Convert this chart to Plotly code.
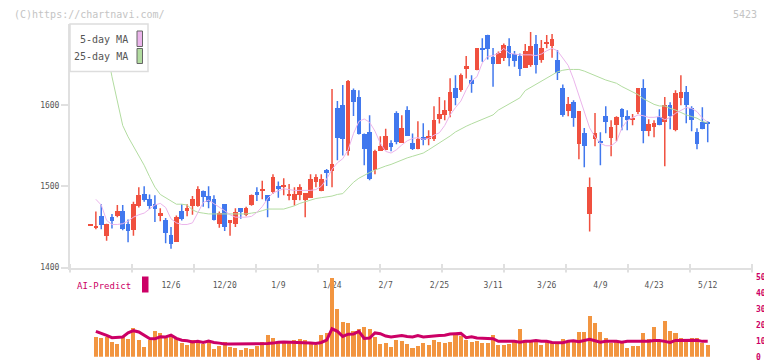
import plotly.graph_objects as go

# ---------------- data ----------------
day_index = list(range(-15, 101))          # trading-day slots, 0 = 12/6, 100 = 5/12
tick_index = [0, 10, 20, 30, 40, 50, 60, 70, 80, 90, 100]
tick_labels = ["12/6", "12/20", "1/9", "1/24", "2/7", "2/25", "3/11", "3/26", "4/9", "4/23", "5/12"]

opens = [1451.5, 1449, 1463, 1439, 1462, 1463, 1470, 1454, 1446, 1476, 1491, 1484, 1478, 1463, 1458,
         1440, 1432, 1470, 1469, 1476, 1476, 1494, 1488, 1484, 1453, 1478, 1455, 1453, 1473, 1465,
         1477, 1493, 1495, 1489, 1492.6, 1500, 1499.5, 1488.5, 1483, 1489, 1483, 1486, 1505, 1494, 1520,
         1519, 1596, 1600, 1543.6, 1618.5, 1610, 1565, 1566.7, 1520, 1543.6, 1544.4, 1553, 1590, 1553.5, 1593.8,
         1554, 1545.7, 1560.5, 1559.5, 1558, 1582.7, 1587.7, 1592.6, 1620.6, 1618.5, 1645, 1631, 1643, 1670.4, 1686.8,
         1659.3, 1650.6, 1658.4, 1672.8, 1663, 1660.5, 1646, 1649.8, 1675.3, 1656, 1676.5, 1672.8, 1655.6, 1621, 1592.6,
         1603.7, 1551.9, 1565.4, 1465.4, 1558, 1554.5, 1586.4, 1559.3, 1575.3, 1595, 1586.4, 1582, 1591.4, 1621, 1568,
         1572.8, 1585.2, 1579, 1600, 1569, 1608.6, 1616, 1596.3, 1566.7, 1579, 1579]
highs = [1453, 1469, 1478, 1454, 1466, 1477, 1477, 1459, 1481, 1499, 1500, 1490, 1489, 1473, 1461,
         1450, 1464, 1478, 1478, 1488, 1500, 1495, 1500, 1489, 1469, 1478, 1458, 1473, 1473, 1475,
         1490, 1499, 1507, 1489, 1515, 1506, 1510, 1503, 1499, 1502.5, 1491.4, 1515, 1515, 1515, 1521.4,
         1620, 1605, 1625, 1631, 1620.6, 1618.5, 1565, 1587.6, 1545, 1561.7, 1570.8, 1556.8, 1592.6, 1587.6, 1598.8,
         1565, 1580.2, 1577.8, 1569, 1598.8, 1610, 1606.2, 1633.3, 1637, 1639, 1660.5, 1637, 1670.4, 1682.3, 1686.8,
         1670.4, 1666, 1676, 1682.3, 1666.7, 1663.8, 1675.3, 1690, 1686.4, 1680.2, 1686.4, 1687.7, 1668, 1625.5, 1610,
         1606.2, 1592.6, 1572, 1511, 1590.5, 1566.7, 1598.8, 1581.5, 1586.4, 1596.3, 1593.8, 1589, 1621, 1632, 1582.7,
         1581.5, 1595, 1610, 1603.7, 1618.5, 1637, 1623.5, 1598.8, 1571.6, 1597.5, 1580.2]
lows = [1451, 1447, 1447, 1433, 1448, 1462, 1446, 1431, 1439, 1474, 1481, 1472, 1456, 1457, 1430,
        1423, 1432, 1458, 1463, 1465, 1475, 1475, 1473, 1458, 1449, 1445, 1439, 1450, 1460, 1463,
        1476, 1482, 1484, 1462, 1491, 1486, 1489, 1483, 1476.5, 1483, 1462, 1486, 1499, 1494, 1500.4,
        1499, 1532, 1538, 1538, 1586.8, 1564, 1526, 1507.4, 1514.8, 1543.6, 1544.4, 1543.2, 1551.9, 1553.5, 1562,
        1544.9, 1545.7, 1550.6, 1550.6, 1556, 1577.4, 1581.5, 1585.2, 1600, 1616.5, 1633, 1615.2, 1643, 1653.5, 1656.4,
        1622.6, 1650.6, 1654.3, 1648, 1647.3, 1636, 1646, 1647.3, 1639.1, 1652.3, 1670, 1658.4, 1631, 1585.6, 1586.4,
        1573.3, 1533.3, 1523.5, 1444.4, 1549.4, 1526, 1565.4, 1537, 1555.6, 1569, 1569, 1575.3, 1589, 1553, 1561.7,
        1560.5, 1575.3, 1524.7, 1570.4, 1568, 1600, 1577.8, 1568, 1545.7, 1570.4, 1554.3]
closes = [1452.3, 1451, 1452, 1453, 1457, 1469, 1447, 1445, 1478, 1489, 1483, 1476, 1472, 1467, 1442,
          1429, 1462, 1460, 1473, 1484, 1497, 1487, 1481, 1458, 1467, 1450, 1458, 1468, 1468, 1473,
          1489, 1489, 1496.5, 1482, 1511, 1497, 1500.5, 1490, 1490, 1499, 1491.4, 1508.6, 1511, 1508.6, 1517,
          1527, 1560, 1558, 1629.6, 1604, 1564, 1546, 1509, 1543.6, 1549.4, 1561.7, 1548, 1554.7, 1571.6, 1562.1,
          1546, 1558, 1557.2, 1561.5, 1581.5, 1589, 1593.8, 1616, 1609, 1637, 1648, 1626, 1670.4, 1668, 1668.7,
          1650.6, 1664.2, 1674, 1658.4, 1654.7, 1645, 1666.7, 1672.8, 1649.8, 1670.4, 1677.5, 1681.5, 1640, 1587.7, 1601.2,
          1584, 1592.6, 1549.4, 1498.8, 1565.4, 1553.5, 1579, 1572.8, 1585.2, 1585.2, 1581.5, 1583, 1621, 1568, 1576.5,
          1577.8, 1575.3, 1600, 1586.4, 1614.8, 1616, 1600, 1581.5, 1551.9, 1570.4, 1576.5]

ma5 = [None, 1484, 1477, 1458, 1453, 1453, 1454, 1457, 1462, 1465, 1467, 1472, 1477, 1479, 1474,
       1460, 1455, 1453, 1453, 1455, 1467, 1480, 1483, 1479, 1475, 1470, 1465, 1462, 1462, 1462,
       1463, 1468, 1475, 1485, 1492, 1495, 1497, 1496, 1495, 1495, 1495, 1495, 1496, 1500, 1509,
       1521, 1529, 1534, 1545, 1565, 1580, 1583, 1579, 1568, 1553, 1543, 1541, 1545, 1551, 1556,
       1559, 1560, 1558, 1559, 1563, 1566, 1575, 1588, 1597, 1605, 1619, 1630, 1635, 1652, 1660,
       1661, 1664, 1670, 1664, 1663, 1662, 1662, 1662, 1661, 1663, 1667, 1670, 1667, 1658, 1649,
       1632, 1612, 1593, 1572, 1561, 1553, 1550, 1550, 1555, 1572, 1581, 1585, 1588, 1587, 1585,
       1585, 1586, 1582, 1585, 1590, 1594, 1597, 1596, 1592, 1584, 1579]
ma25 = [1760, 1740, 1715, 1670, 1635, 1605, 1575, 1561, 1549, 1538, 1526, 1512, 1499, 1490, 1486,
        1483, 1478, 1478, 1477, 1471, 1468, 1467, 1466, 1466, 1466, 1466, 1466, 1466, 1466, 1466,
        1467, 1468, 1470, 1472, 1472, 1472, 1472, 1474, 1476, 1479, 1481, 1483, 1485, 1486, 1487,
        1488, 1490, 1491, 1498, 1505, 1510, 1514, 1517, 1520, 1523, 1525, 1527, 1530, 1532, 1535,
        1537, 1539, 1541, 1545, 1549, 1553, 1558, 1562, 1567, 1571, 1574, 1577, 1580, 1582, 1585,
        1588, 1594, 1598, 1601, 1605, 1609, 1618, 1622, 1625, 1629, 1633, 1637, 1641, 1643, 1644,
        1644, 1644, 1642, 1639, 1636, 1634, 1631, 1629, 1627, 1623, 1620, 1616, 1613, 1608, 1605,
        1601, 1599, 1599, 1596, 1594, 1591, 1588, 1586, 1584, 1580, 1578]

volume = [None, 12.4, 11.8, 12.2, 9.3, 8.1, 12.4, 11.2, 18.0, 10.6, 6.2, 10.6, 16.1, 14.9, 11.8,
          12.8, 11.8, 8.7, 7.5, 10.6, 9.3, 8.1, 10.6, 5.0, 6.8, 9.3, 6.2, 5.6, 4.3, 5.6,
          5.0, 6.8, 9.3, 13.7, 11.8, 9.3, 9.3, 9.3, 10.6, 11.2, 10.6, 8.7, 7.5, 13.7, 14.9,
          49.6, 29.8, 21.7, 21.1, 16.1, 17.4, 18.6, 17.7, 12.4, 8.1, 8.7, 6.2, 10.6, 9.9, 8.1,
          5.6, 6.8, 8.7, 7.5, 10.6, 9.3, 8.7, 9.3, 13.5, 13.0, 10.6, 9.3, 9.9, 8.7, 8.7,
          13.7, 7.5, 7.5, 8.1, 9.3, 17.4, 9.3, 9.9, 10.6, 7.5, 9.3, 8.7, 9.3, 11.2, 9.9,
          10.6, 15.5, 15.5, 25.5, 21.1, 15.5, 11.8, 8.7, 9.3, 9.3, 5.6, 6.8, 6.8, 14.9, 11.2,
          18.6, 9.3, 22.4, 16.1, 14.9, 11.8, 9.3, 11.8, 11.8, 8.7, 7.5]
ai_predict = [None, 16.0, 14.9, 13.4, 12.0, 12.2, 12.4, 15.0, 16.4, 15.6, 13.8, 11.5, 11.3, 12.6, 12.5,
              13.6, 11.6, 10.4, 10.1, 9.3, 9.7, 9.0, 9.9, 9.0, 8.6, 8.0, 8.0, 8.0, 8.0, 8.0,
              8.0, 8.0, 8.0, 8.3, 8.6, 9.2, 9.3, 9.2, 9.2, 9.0, 8.7, 8.6, 8.3, 9.0, 10.5,
              17.6, 16.0, 12.8, 14.2, 14.3, 16.0, 11.5, 11.8, 15.0, 14.5, 13.0, 12.4, 13.0, 13.4, 12.8,
              12.4, 13.3, 12.5, 12.8, 12.9, 13.4, 13.6, 14.3, 14.5, 14.7, 12.0, 12.6, 11.8, 11.8, 11.8,
              11.4, 9.7, 9.7, 9.7, 9.7, 9.2, 9.7, 9.7, 10.3, 9.8, 9.7, 9.0, 8.8, 8.9, 9.7,
              10.1, 9.4, 10.2, 11.0, 10.1, 9.2, 9.7, 9.7, 9.7, 9.2, 9.7, 9.7, 9.7, 9.7, 9.7,
              10.3, 10.3, 9.7, 9.0, 10.3, 10.4, 10.4, 10.4, 10.4, 9.7, 9.7]
volume_ticks = [0, 10, 20, 30, 40, 50]
price_ticks = [1400, 1500, 1600]

# ---------------- styling ----------------
UP = "#f0503f"
DOWN = "#4178ee"
MONO = "DejaVu Sans Mono"
OFF = 8                      # page body margin of the browser
W, H = 772 - OFF, 361 - OFF
L = 70 - OFF
R = W - (752 - OFF)
PW = W - L - R


def py(p):  # screen pixel row -> paper y
    return (H - (p - OFF)) / H


def px(p):  # screen pixel column -> paper x
    return (p - OFF - L) / PW


xr = [-18.82, 108.25]

fig = go.Figure()

# wicks
for col, is_up in ((UP, True), (DOWN, False)):
    wx, wy = [], []
    for d, o, h, lo, c in zip(day_index, opens, highs, lows, closes):
        if (c >= o) == is_up:
            wx += [d, d, None]
            wy += [lo, h, None]
    fig.add_trace(go.Scatter(x=wx, y=wy, mode="lines", line=dict(color=col, width=1.5),
                             hoverinfo="skip", showlegend=False, xaxis="x", yaxis="y"))

# bodies
fig.add_trace(go.Bar(
    x=day_index,
    base=[min(o, c) for o, c in zip(opens, closes)],
    y=[max(abs(c - o), 1.3) for o, c in zip(opens, closes)],
    marker=dict(color=[UP if c >= o else DOWN for o, c in zip(opens, closes)], line=dict(width=0)),
    width=0.87, showlegend=False, xaxis="x", yaxis="y"))

# moving averages
fig.add_trace(go.Scatter(x=day_index, y=ma25, mode="lines", line=dict(color="#b2dca0", width=1),
                         showlegend=False, xaxis="x", yaxis="y"))
fig.add_trace(go.Scatter(x=day_index, y=ma5, mode="lines", line=dict(color="#ebb4eb", width=1),
                         showlegend=False, xaxis="x", yaxis="y"))

# lower panel
fig.add_trace(go.Bar(x=day_index, y=volume, marker=dict(color="#f29540", line=dict(width=0)),
                     width=0.76, showlegend=False, xaxis="x2", yaxis="y2"))
fig.add_trace(go.Scatter(x=day_index, y=ai_predict, mode="lines", line=dict(color="#cc0066", width=3),
                         showlegend=False, xaxis="x2", yaxis="y2"))

AXC = "#e0e0e0"
fig.update_layout(
    width=W, height=H, margin=dict(l=L, r=R, t=0, b=0, autoexpand=False),
    paper_bgcolor="white", plot_bgcolor="white", barmode="overlay", bargap=0,
    xaxis=dict(domain=[0, 1], range=xr, anchor="y", tickvals=tick_index, ticktext=tick_labels,
               ticks="", showline=True, linecolor=AXC, linewidth=2, showgrid=False, zeroline=False,
               automargin=False,
               tickfont=dict(family=MONO, size=8, color="#555"), ticklabelstandoff=9),
    yaxis=dict(domain=[py(267.5), py(24)], range=[1400, 1700], tickvals=price_ticks, anchor="x",
               ticks="outside", ticklen=7, tickwidth=2, tickcolor=AXC, showline=True, linecolor=AXC,
               linewidth=2, showgrid=False, zeroline=False, automargin=False,
               tickfont=dict(family=MONO, size=8, color="#555")),
    xaxis2=dict(domain=[0, 1], range=xr, anchor="y2", visible=False, automargin=False),
    yaxis2=dict(domain=[py(356.8), py(274)], range=[0, 52], anchor="x2", side="right",
                tickvals=volume_ticks, ticks="", showline=False, showgrid=False, zeroline=False,
                automargin=False, ticklabeloverflow="allow",
                tickfont=dict(family=MONO, size=8, color="#cc0066", weight="bold"), ticklabelstandoff=3),
)

shapes = []
# bottom axis tick marks (11 equal intervals)
for k in range(12):
    shapes.append(dict(type="line", xref="paper", yref="paper", x0=k / 11, x1=k / 11,
                       y0=py(272.5), y1=py(264), line=dict(color=AXC, width=2)))
# legend box
shapes.append(dict(type="rect", xref="paper", yref="paper", x0=px(70), x1=px(148), y0=py(71.5), y1=py(24),
                   fillcolor="white", line=dict(color="#dddddd", width=1.5), layer="above"))
shapes.append(dict(type="rect", xref="paper", yref="paper", x0=px(137), x1=px(142.5), y0=py(46.5), y1=py(31),
                   fillcolor="#ebb4eb", line=dict(color="#666", width=1), layer="above"))
shapes.append(dict(type="rect", xref="paper", yref="paper", x0=px(137), x1=px(142.5), y0=py(63.5), y1=py(48.5),
                   fillcolor="#b2dca0", line=dict(color="#666", width=1), layer="above"))
# AI-Predict swatch
shapes.append(dict(type="rect", xref="paper", yref="paper", x0=px(142), x1=px(148.5), y0=py(292.5), y1=py(276.5),
                   fillcolor="#cc0066", line=dict(width=0), layer="above"))
fig.update_layout(shapes=shapes)

ann = [
    dict(text="(C)https://chartnavi.com/", x=px(13), y=1, xanchor="left", yanchor="top", borderpad=0,
         font=dict(family=MONO, size=10, color="#c4c4c4")),
    dict(text="5423", x=px(758), y=1, xanchor="right", yanchor="top", borderpad=0,
         font=dict(family=MONO, size=10, color="#c4c4c4")),
    dict(text="5-day MA", x=px(130), y=py(39.5), xanchor="right", yanchor="middle",
         font=dict(family=MONO, size=10, color="#555")),
    dict(text="25-day MA", x=px(130), y=py(56.5), xanchor="right", yanchor="middle",
         font=dict(family=MONO, size=10, color="#555")),
    dict(text="AI-Predict", x=px(75), y=py(286), xanchor="left", yanchor="middle",
         font=dict(family=MONO, size=9, color="#cc0066")),
]
for a in ann:
    a.update(xref="paper", yref="paper", showarrow=False)
fig.update_layout(annotations=ann)

fig.write_html("out.html")
